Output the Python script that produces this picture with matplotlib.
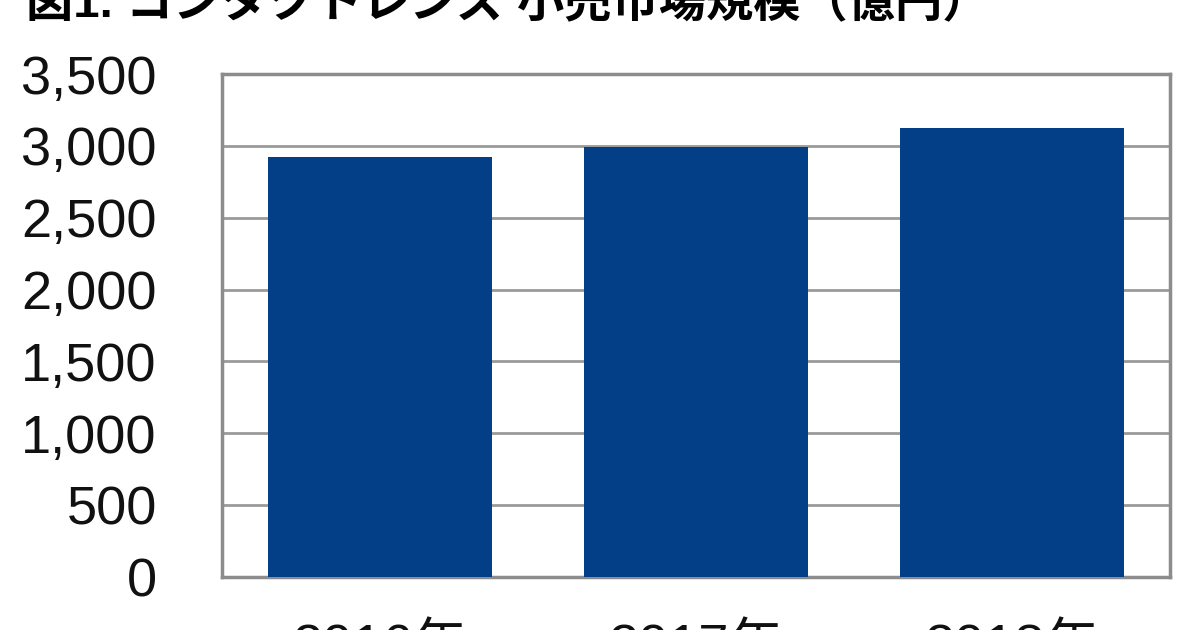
import matplotlib
matplotlib.use("Agg")
import matplotlib.pyplot as plt

# data
years = ["2016年", "2017年", "2018年"]
market_size = [2920, 2995, 3125]  # 億円
y_ticks = [0, 500, 1000, 1500, 2000, 2500, 3000, 3500]

plt.rcParams['font.family'] = ['Liberation Sans', 'Noto Sans CJK JP', 'DejaVu Sans']

fig = plt.figure(figsize=(12, 6.3), dpi=100)
ax = fig.add_axes([0.185, 0.0841, 0.79, 0.7984])

ax.bar(range(len(years)), market_size, width=0.71, color='#023f86', zorder=3)

ax.set_xlim(-0.5, len(years) - 0.5)
ax.set_ylim(0, 3500)
ax.set_yticks(y_ticks)
ax.set_yticklabels([f"{v:,}" for v in y_ticks])
ax.set_xticks(range(len(years)))
ax.set_xticklabels(years)

ax.grid(axis='y', color='#9a9a9a', linewidth=2, zorder=0)
for s in ax.spines.values():
    s.set_color('#8c8c8c')
    s.set_linewidth(2.5)

ax.tick_params(axis='y', length=0, pad=47, labelsize=39, labelcolor='#111111')
ax.tick_params(axis='x', length=0, pad=33, labelsize=39, labelcolor='#111111')

fig.text(0.022, 0.973, "図1. コンタクトレンズ 小売市場規模（億円）",
         fontsize=34, fontweight='bold', va='baseline', ha='left',
         family=['Liberation Sans', 'Noto Sans CJK JP'])

fig.savefig("out.png", dpi=100)
